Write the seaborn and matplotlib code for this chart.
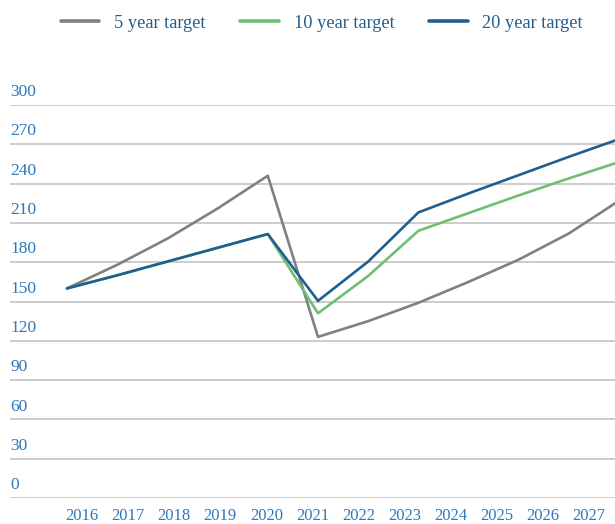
import numpy as np
import pandas as pd
import seaborn as sns
import matplotlib.pyplot as plt
from matplotlib.transforms import ScaledTranslation

# data
years = [2016, 2017, 2018, 2019, 2020, 2021, 2022, 2023, 2024, 2025, 2026, 2027]
target_5 = [160, 178, 198, 221, 246, 123, 135, 149, 165, 182, 202, 227]
target_10 = [160, 170, 180.5, 191, 201.5, 141, 169.5, 204, 217.5, 231, 244, 256.5]
target_20 = [160, 170, 180.5, 191, 201.5, 150.5, 180.5, 218, 232.5, 246.5, 260.5, 274]
series_names = ["5 year target", "10 year target", "20 year target"]
y_ticks = [0, 30, 60, 90, 120, 150, 180, 210, 240, 270, 300]

palette = ["#808080", "#6cbf73", "#1f5e92"]
tick_color = "#2e77b8"
legend_color = "#245d8c"

df = pd.DataFrame({"pos": np.arange(len(years))})
df[series_names[0]] = target_5
df[series_names[1]] = target_10
df[series_names[2]] = target_20
long = df.melt(id_vars="pos", var_name="series", value_name="value")

sns.set_style("white")
plt.rcParams["font.family"] = ["Liberation Serif", "DejaVu Serif"]

W, H = 615, 524
fig = plt.figure(figsize=(W / 100, H / 100), dpi=100)
ax_left, ax_right, ax_top, ax_bot = 10, 615, 105, 498
ax = fig.add_axes([ax_left / W, 1 - ax_bot / H, (ax_right - ax_left) / W, (ax_bot - ax_top) / H])

sns.lineplot(data=long, x="pos", y="value", hue="series", palette=palette,
             linewidth=1.9, ax=ax, legend=True)

# data points sit 50.2 px apart, first one at x=67 px
step = 50.2
x0 = 67
ax.set_xlim((ax_left - x0) / step, (ax_right - x0) / step)
ax.set_ylim(0, 300)

# gridlines
for v in y_ticks:
    ax.axhline(v, color="#cccccc", linewidth=1.4, zorder=0)
for s in ax.spines.values():
    s.set_visible(False)

# y tick labels above gridlines, left aligned
ax.set_yticks(y_ticks)
ax.set_yticklabels([str(v) for v in y_ticks])
ax.tick_params(axis="y", length=0, pad=0, labelsize=12.5, labelcolor=tick_color)
for lab in ax.get_yticklabels():
    lab.set_horizontalalignment("left")
    lab.set_verticalalignment("bottom")
    lab.set_transform(lab.get_transform() + ScaledTranslation(0, 3.5 / 72, fig.dpi_scale_trans))

# x labels spaced independently of the data (as in the original)
lab_step = 46.1
lab_x0 = 82
ax.set_xticks([(lab_x0 - x0 + lab_step * i) / step for i in range(len(years))])
ax.set_xticklabels([str(y) for y in years])
ax.tick_params(axis="x", length=0, pad=7.5, labelsize=12, labelcolor=tick_color)
ax.set_xlabel("")
ax.set_ylabel("")

handles, labels = ax.get_legend_handles_labels()
ax.get_legend().remove()
fs = 13.2
leg = fig.legend(handles, labels, loc="center", bbox_to_anchor=(322 / W, 1 - 23 / H),
                 ncol=3, frameon=False, fontsize=fs, handlelength=2.1,
                 handletextpad=0.8, columnspacing=1.9)
for t in leg.get_texts():
    t.set_color(legend_color)
for l in leg.get_lines():
    l.set_linewidth(2.6)

fig.savefig("out.png", dpi=100)
